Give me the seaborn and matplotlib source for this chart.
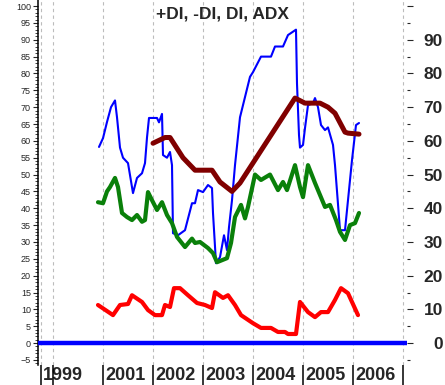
import numpy as np
import pandas as pd
import matplotlib
matplotlib.use('Agg')
import matplotlib.pyplot as plt
import matplotlib.transforms as mtransforms
import seaborn as sns

# DI (blue): decimal year, value
di_t = [2000.92, 2001.00, 2001.08, 2001.16, 2001.24, 2001.28, 2001.34, 2001.40, 2001.50, 2001.60,
        2001.68, 2001.78, 2001.84, 2001.88, 2001.92, 2002.08, 2002.12, 2002.18, 2002.20, 2002.28,
        2002.34, 2002.38, 2002.40, 2002.50, 2002.64, 2002.78, 2002.84, 2002.90, 2003.00, 2003.10,
        2003.18, 2003.20, 2003.26, 2003.34, 2003.42, 2003.48, 2003.52, 2003.58, 2003.64, 2003.74,
        2003.94, 2004.00, 2004.16, 2004.36, 2004.44, 2004.60, 2004.70, 2004.86, 2004.88, 2004.92,
        2004.94, 2005.00, 2005.04, 2005.10, 2005.20, 2005.24, 2005.30, 2005.36, 2005.44, 2005.50,
        2005.60, 2005.64, 2005.74, 2005.84, 2005.98, 2006.06, 2006.12]
di_v = [58.2, 60.8, 65.6, 70.0, 72.0, 67.0, 58.0, 55.0, 53.4, 44.5,
        49.0, 50.4, 53.4, 61.0, 66.8, 66.8, 65.5, 68.0, 55.8, 55.0,
        56.7, 52.8, 32.6, 32.0, 33.5, 41.5, 41.5, 45.4, 44.8, 46.9,
        46.0, 38.6, 23.7, 25.5, 32.0, 27.6, 34.4, 42.4, 52.8, 67.0,
        79.0, 80.4, 85.0, 85.0, 88.0, 88.0, 91.4, 93.0, 77.0, 61.7,
        58.0, 58.8, 63.8, 70.6, 71.2, 72.7, 70.0, 64.7, 63.2, 64.0,
        58.8, 52.8, 33.5, 33.5, 54.3, 64.7, 65.3]

# +DI (green)
pdi_t = [2000.90, 2001.00, 2001.08, 2001.14, 2001.24, 2001.30, 2001.38, 2001.48, 2001.58, 2001.68,
         2001.78, 2001.84, 2001.90, 2001.98, 2002.08, 2002.18, 2002.28, 2002.38, 2002.48, 2002.64,
         2002.78, 2002.84, 2002.94, 2003.10, 2003.20, 2003.28, 2003.38, 2003.48, 2003.56, 2003.64,
         2003.76, 2003.84, 2003.90, 2004.04, 2004.16, 2004.34, 2004.50, 2004.60, 2004.68, 2004.84,
         2004.94, 2005.00, 2005.10, 2005.24, 2005.44, 2005.54, 2005.66, 2005.74, 2005.84, 2005.94,
         2006.04, 2006.12]
pdi_v = [41.8, 41.5, 45.0, 46.3, 49.0, 46.3, 38.6, 37.4, 36.5, 38.0,
         36.0, 36.5, 44.8, 42.4, 39.5, 41.8, 38.0, 35.6, 31.5, 28.5,
         31.0, 29.7, 30.0, 28.2, 26.7, 24.0, 24.6, 25.2, 29.7, 37.4,
         41.0, 37.0, 40.4, 50.0, 48.4, 50.0, 45.4, 47.8, 45.4, 52.8,
         46.3, 43.3, 52.8, 47.5, 40.4, 41.0, 36.5, 33.0, 30.6, 35.0,
         35.6, 38.6]

# -DI (red)
mdi_t = [2000.90, 2001.20, 2001.34, 2001.50, 2001.58, 2001.78, 2001.90, 2002.04, 2002.18, 2002.24,
         2002.34, 2002.42, 2002.54, 2002.70, 2002.88, 2003.04, 2003.18, 2003.24, 2003.40, 2003.50,
         2003.64, 2003.76, 2004.00, 2004.16, 2004.36, 2004.50, 2004.64, 2004.70, 2004.86, 2004.94,
         2005.10, 2005.24, 2005.36, 2005.50, 2005.64, 2005.76, 2005.90, 2006.10]
mdi_v = [11.3, 8.3, 11.3, 11.6, 14.2, 12.2, 9.8, 8.3, 8.3, 11.3,
         10.7, 16.3, 16.3, 14.2, 11.9, 11.3, 10.4, 15.1, 13.4, 14.2,
         11.3, 8.3, 5.9, 4.5, 4.5, 3.3, 3.3, 2.7, 2.7, 12.2,
         9.2, 7.7, 9.2, 9.2, 12.8, 16.3, 14.8, 8.3]

# ADX (dark red)
adx_t = [2002.00, 2002.24, 2002.34, 2002.60, 2002.84, 2003.18, 2003.34, 2003.58, 2003.74, 2004.84,
         2005.04, 2005.34, 2005.50, 2005.64, 2005.84, 2005.90, 2006.12]
adx_v = [59.3, 61.0, 61.0, 55.0, 51.3, 51.3, 47.8, 45.0, 47.5, 72.7,
         71.2, 71.2, 70.0, 68.2, 62.6, 62.3, 62.0]

year_ticks = [1999.76, 2000, 2001, 2002, 2003, 2004, 2005, 2006, 2007]
year_labels = ['1999', '', '2001', '2002', '2003', '2004', '2005', '2006', '']

sns.set_style('white')
plt.rcParams['font.family'] = ['Liberation Sans', 'DejaVu Sans']

fig = plt.figure(figsize=(4.45, 3.85), dpi=100)
ax = fig.add_axes([38/445, 20/385, (407-38)/445, 365/385])

for t, v, c, lw in [(di_t, di_v, '#0000FF', 1.5),
                    (pdi_t, pdi_v, '#0A800A', 3.0),
                    (mdi_t, mdi_v, '#FF0000', 3.0),
                    (adx_t, adx_v, '#800000', 3.6)]:
    df = pd.DataFrame({'t': t, 'v': v})
    sns.lineplot(data=df, x='t', y='v', color=c, linewidth=lw, estimator=None, ax=ax)

ax.axhline(0, color='#0000FF', linewidth=3.2, zorder=5)

ax.set_xlim(1999.70, 2007.08)
ax.set_ylim(-6.5, 101.8)
ax.set_xlabel('')
ax.set_ylabel('')

# x axis: long ticks with left-aligned year labels
ax.set_xticks(year_ticks)
ax.set_xticklabels(year_labels, fontsize=13, fontweight='bold', ha='left')
ax.tick_params(axis='x', direction='out', length=14.4, width=1.1, color='black',
               pad=-12.8, bottom=True)
offset = mtransforms.ScaledTranslation(2/100, 0, fig.dpi_scale_trans)
for lab in ax.get_xticklabels():
    lab.set_transform(lab.get_transform() + offset)
ax.grid(axis='x', color='#bcbcbc', linestyle=(0, (3, 3)), linewidth=0.8)
ax.grid(axis='y', visible=False)

# left y axis: small labels every 5, minor every 1
ax.set_yticks(np.arange(-5, 101, 5))
ax.set_yticks(np.arange(-6, 101, 1), minor=True)
ax.tick_params(axis='y', which='major', direction='out', length=3.6, width=0.8,
               labelsize=6.5, pad=1.5, left=True)
ax.tick_params(axis='y', which='minor', direction='out', length=2.0, width=0.6, left=True)

for s in ['top', 'right', 'bottom']:
    ax.spines[s].set_visible(False)
ax.spines['left'].set_color('black')
ax.spines['left'].set_linewidth(1.1)

# right y axis: bold labels every 10
ax2 = ax.twinx()
ax2.set_ylim(ax.get_ylim())
ax2.set_yticks(np.arange(0, 101, 10))
ax2.set_yticklabels([str(v) for v in range(0, 100, 10)] + [''],
                    fontsize=12.5, fontweight='bold', ha='right')
ax2.set_yticks(np.arange(-5, 101, 10), minor=True)
ax2.tick_params(axis='y', which='major', direction='out', length=4.3, width=0.8,
                pad=21.5, right=True)
ax2.tick_params(axis='y', which='minor', direction='out', length=2.2, width=0.8, right=True)
for s in ax2.spines.values():
    s.set_visible(False)
ax2.grid(False)

ax.text(0.5, 1 - 14/365, '+DI, -DI, DI, ADX', transform=ax.transAxes,
        ha='center', va='center', fontsize=12.5, fontweight='bold')

fig.savefig('out.png', dpi=100)
